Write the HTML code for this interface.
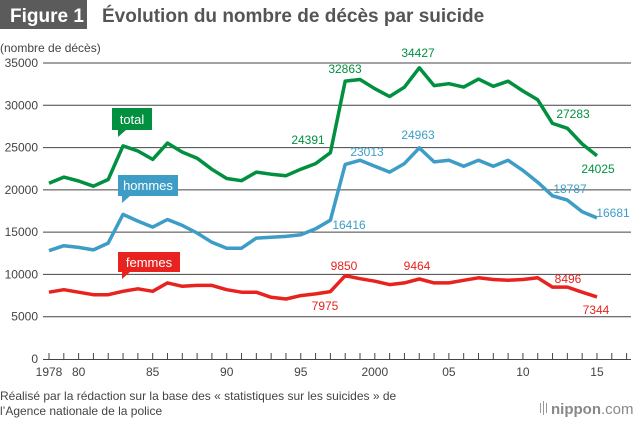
<!DOCTYPE html><html><head><meta charset="utf-8"><style>
body{margin:0;background:#fff;width:640px;height:420px;overflow:hidden;font-family:"Liberation Sans",sans-serif}
</style></head><body>
<svg id="s" width="640" height="420" xmlns="http://www.w3.org/2000/svg" font-family="Liberation Sans, sans-serif">
<rect x="0" y="0" width="87" height="29" fill="#5b5b5b"/>
<text x="10" y="22" font-size="19" font-weight="bold" fill="#fff">Figure 1</text>
<text x="102" y="22" font-size="19" font-weight="bold" fill="#555">Évolution du nombre de décès par suicide</text>
<text x="0" y="52" font-size="12" fill="#444">(nombre de décès)</text>
<g id="grid" stroke="#444" stroke-width="1"></g>
<g id="yl" font-size="12" fill="#444" text-anchor="end"></g>
<g id="xl" font-size="12" fill="#444" text-anchor="middle"></g>
<g id="lines" fill="none" stroke-width="3.5" stroke-linejoin="round"></g>
<g font-size="12" text-anchor="middle">
<text x="308" y="144" fill="#009040">24391</text>
<text x="345" y="73" fill="#009040">32863</text>
<text x="418" y="57" fill="#009040">34427</text>
<text x="573" y="118" fill="#009040">27283</text>
<text x="598" y="173" fill="#009040">24025</text>
<text x="367" y="156" fill="#3d9dc7">23013</text>
<text x="418" y="139" fill="#3d9dc7">24963</text>
<text x="349" y="229" fill="#3d9dc7">16416</text>
<text x="570" y="193" fill="#3d9dc7">18787</text>
<text x="613" y="217" fill="#3d9dc7">16681</text>
<text x="344" y="270" fill="#e8231f">9850</text>
<text x="417" y="270" fill="#e8231f">9464</text>
<text x="568" y="283" fill="#e8231f">8496</text>
<text x="325" y="310" fill="#e8231f">7975</text>
<text x="596" y="314" fill="#e8231f">7344</text>
</g>
<rect x="112" y="108" width="40" height="22" fill="#009040"/><polygon points="118,130 126,130 118,137" fill="#009040"/>
<text x="132" y="124" font-size="13" fill="#fff" text-anchor="middle">total</text>
<rect x="118" y="175" width="60" height="21" fill="#3d9dc7"/><polygon points="122,196 130,196 122,203" fill="#3d9dc7"/>
<text x="148" y="190" font-size="13" fill="#fff" text-anchor="middle">hommes</text>
<rect x="118" y="252" width="62" height="20" fill="#e8231f"/><polygon points="122,272 130,272 122,279" fill="#e8231f"/>
<text x="149" y="267" font-size="13" fill="#fff" text-anchor="middle">femmes</text>
<text x="0" y="400" font-size="12" fill="#444">Réalisé par la rédaction sur la base des « statistiques sur les suicides » de</text>
<text x="0" y="415" font-size="12" fill="#444">l’Agence nationale de la police</text>
<g fill="#999"><rect x="540" y="403" width="1" height="10"/><rect x="543" y="401" width="1" height="14"/><rect x="546" y="403" width="1" height="10"/></g>
<text x="551" y="414" font-size="15" fill="#888"><tspan font-weight="bold">nippon</tspan>.com</text>
</svg>
<script>
var ns="http://www.w3.org/2000/svg";
function el(p,t,a,tx){var e=document.createElementNS(ns,t);for(var k in a)e.setAttribute(k,a[k]);if(tx)e.textContent=tx;document.getElementById(p).appendChild(e);}
function Y(v){return 359-v*296/35000}
function X(y){return 49+(y-1978)*14.81}
for(var v=5000;v<=35000;v+=5000){el("grid","line",{x1:43,x2:631,y1:Y(v),y2:Y(v)});el("yl","text",{x:38,y:Y(v)+4},String(v));}
el("grid","line",{x1:43,x2:631,y1:359.5,y2:359.5});
el("yl","text",{x:38,y:363},"0");
for(var y=1978;y<=2017;y++)el("grid","line",{x1:X(y),x2:X(y),y1:353,y2:359});
var xl={1978:"1978",1980:"80",1985:"85",1990:"90",1995:"95",2000:"2000",2005:"05",2010:"10",2015:"15"};
for(var k in xl)el("xl","text",{x:X(+k),y:376},xl[k]);
var T=[20788,21503,21048,20434,21228,25202,24596,23599,25524,24460,23742,22436,21346,21084,22104,21851,21679,22445,23104,24391,32863,33048,31957,31042,32143,34427,32325,32552,32155,33093,32249,32845,31690,30651,27858,27283,25427,24025];
var M=[12800,13400,13200,12900,13700,17100,16300,15600,16500,15800,14900,13800,13100,13100,14300,14400,14500,14700,15400,16416,23013,23500,22800,22100,23100,24963,23300,23500,22800,23500,22800,23500,22300,20900,19300,18787,17400,16681];
var F=[7900,8200,7900,7600,7600,8000,8300,8000,9000,8600,8700,8700,8200,7900,7900,7300,7100,7500,7700,7975,9850,9500,9200,8800,9000,9464,9000,9000,9300,9600,9400,9300,9400,9600,8500,8496,7900,7344];
function pl(d,c){el("lines","polyline",{stroke:c,points:d.map(function(v,i){return X(1978+i).toFixed(1)+","+Y(v).toFixed(1)}).join(" ")});}
pl(T,"#009040");pl(M,"#3d9dc7");pl(F,"#e8231f");
</script>
</body></html>
